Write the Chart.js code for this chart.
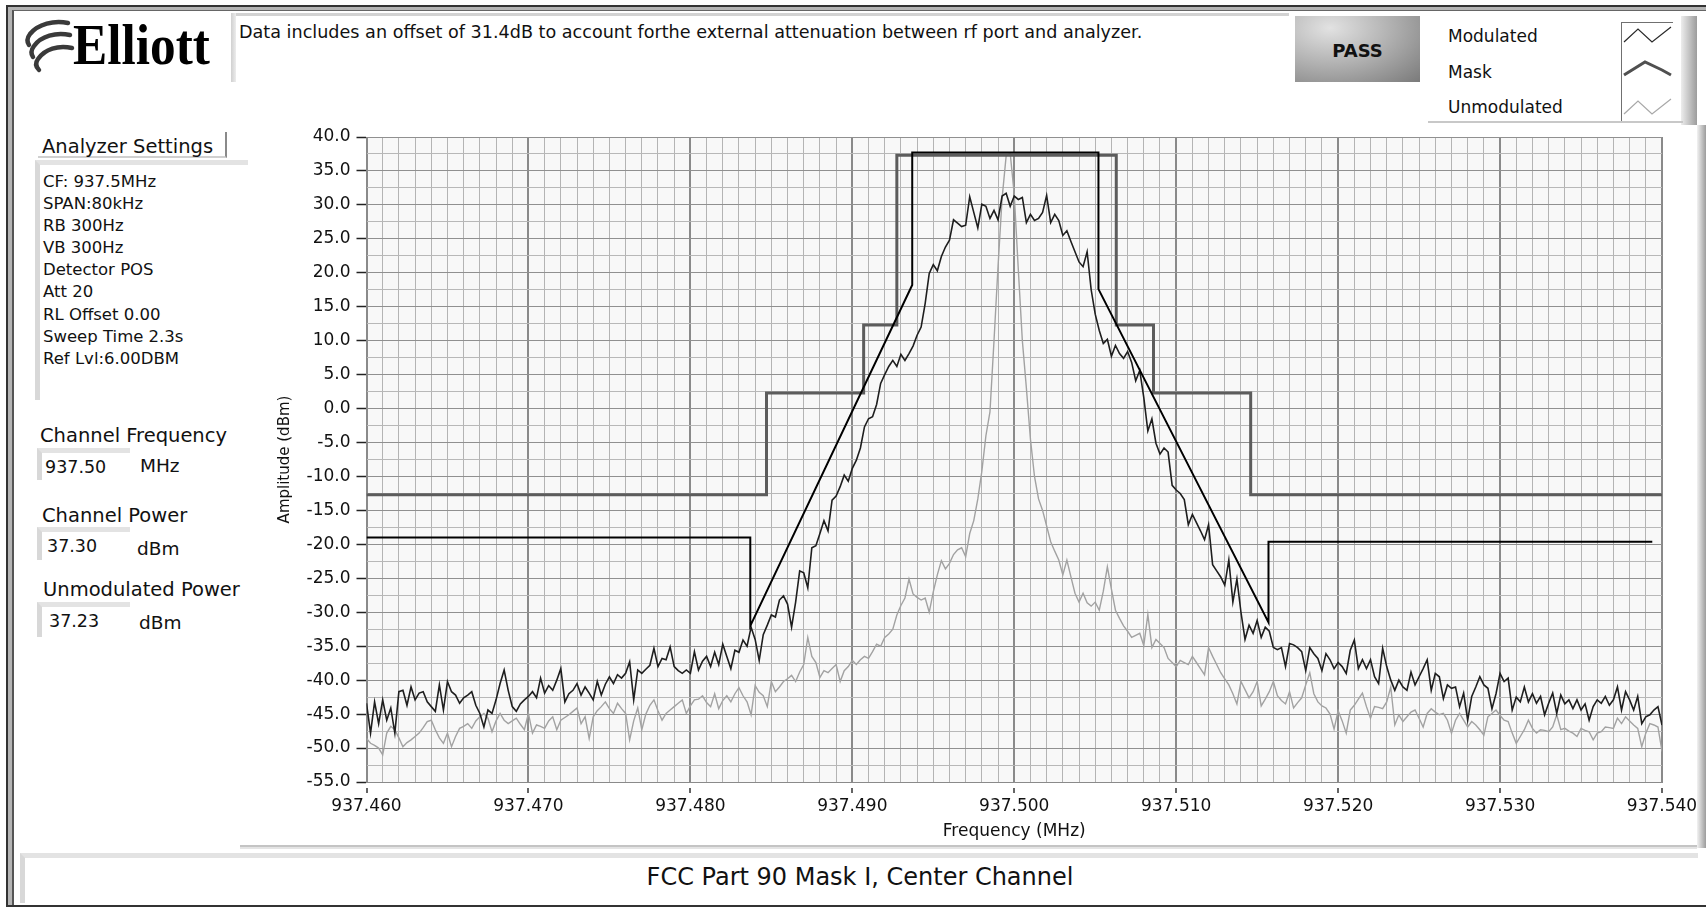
<!DOCTYPE html>
<html>
<head>
<meta charset="utf-8">
<script src="https://cdn.jsdelivr.net/npm/chart.js@4.4.0/dist/chart.umd.min.js"></script>
<style>
  html, body { margin: 0; padding: 0; background: #fff; }
  body { width: 1706px; height: 910px; position: relative; overflow: hidden; font-family: "DejaVu Sans", sans-serif; color: #111; }
  .abs { position: absolute; white-space: nowrap; }
  .bevel { position: absolute; background: #fff; border-left: 5px solid #d8d8d8; border-top: 5px solid #e3e3e3; box-sizing: border-box; }
  #chartBox { position: absolute; left: 260px; top: 120px; }
</style>
</head>
<body>

<!-- panel frame -->
<div class="abs" style="left:6px;top:5px;width:1700px;height:902px;border-left:2px solid #333;border-top:2px solid #333;border-bottom:2px solid #333;box-sizing:border-box;"></div>
<div class="abs" style="left:8px;top:7px;width:4px;height:898px;background:#b4b4b4;"></div>
<div class="abs" style="left:8px;top:7px;width:1698px;height:3px;background:#b4b4b4;"></div>
<div class="abs" style="left:12px;top:10px;width:1694px;height:895px;border-left:2px solid #555;border-top:1px solid #666;box-sizing:border-box;"></div>
<div class="abs" style="left:1697px;top:125px;width:9px;height:723px;background:linear-gradient(to right,#f2f2f2,#9c9c9c);"></div>

<!-- logo -->
<svg class="abs" style="left:18px;top:18px;" width="60" height="56" viewBox="0 0 60 56">
  <path d="M50 5 C36 2 20 6 12 16 C9 20 9 24 11 27" stroke="#3a3a3a" stroke-width="4.5" fill="none" stroke-linecap="round"/>
  <path d="M52 17 C38 14 23 18 16 28 C13 32 13 36 15 39" stroke="#3a3a3a" stroke-width="4.5" fill="none" stroke-linecap="round"/>
  <path d="M54 30 C40 27 27 31 20 41 C17 45 18 49 21 52" stroke="#3a3a3a" stroke-width="4.5" fill="none" stroke-linecap="round"/>
</svg>
<div class="abs" style="left:73px;top:12px;font-family:'Liberation Serif',serif;font-weight:bold;font-size:58px;line-height:66px;transform:scaleX(0.885);transform-origin:left top;color:#000;">Elliott</div>

<!-- note box -->
<div class="abs" style="left:231px;top:13px;width:1058px;height:3px;background:#d2d2d2;"></div>
<div class="abs" style="left:231px;top:13px;width:5px;height:69px;background:linear-gradient(to right,#d0d0d0,#ececec);"></div>
<div class="abs" style="left:239px;top:22px;font-size:17.6px;">Data includes an offset of 31.4dB to account forthe external attenuation between rf port and analyzer.</div>

<!-- PASS indicator -->
<div class="abs" style="left:1295px;top:16px;width:125px;height:66px;background:radial-gradient(ellipse at 28% 18%,#e2e2e2 0%,#b4b4b4 45%,#7a7a7a 100%);"></div>
<div class="abs" style="left:1295px;top:40px;width:125px;text-align:center;font-weight:bold;font-size:18px;">PASS</div>

<!-- legend -->
<div class="abs" style="left:1448px;top:26px;font-size:17px;">Modulated</div>
<div class="abs" style="left:1448px;top:62px;font-size:17px;">Mask</div>
<div class="abs" style="left:1448px;top:97px;font-size:17px;">Unmodulated</div>
<div class="abs" style="left:1621px;top:22px;width:51px;height:98px;border-left:1px solid #707070;border-top:1px solid #707070;background:#fff;"></div>
<svg class="abs" style="left:1621px;top:22px;" width="52" height="100">
  <polyline points="3,20 17,7 31,20 50,5" stroke="#2a2a2a" stroke-width="1.2" fill="none"/>
  <polyline points="3,53 24,40 41,48 50,53" stroke="#505050" stroke-width="3" fill="none"/>
  <polyline points="3,92 17,79 31,92 50,77" stroke="#a8a8a8" stroke-width="1.2" fill="none"/>
</svg>
<div class="abs" style="left:1681px;top:16px;width:16px;height:109px;background:linear-gradient(to right,#ededed,#9c9c9c);"></div>
<div class="abs" style="left:1428px;top:121px;width:255px;height:2px;background:#c8c8c8;"></div>

<!-- left panel -->
<div class="abs" style="left:38px;top:132px;width:189px;height:26px;border-right:2px solid #8a8a8a;border-bottom:2px solid #d0d0d0;box-sizing:border-box;"></div>
<div class="abs" style="left:42px;top:135px;font-size:19.5px;">Analyzer Settings</div>
<div class="bevel" style="left:35px;top:160px;width:213px;height:240px;"></div>
<div class="abs" style="left:43px;top:171px;font-size:16.5px;line-height:22.1px;">CF: 937.5MHz<br>SPAN:80kHz<br>RB 300Hz<br>VB 300Hz<br>Detector POS<br>Att 20<br>RL Offset 0.00<br>Sweep Time 2.3s<br>Ref Lvl:6.00DBM</div>

<div class="abs" style="left:40px;top:424px;font-size:19.5px;">Channel Frequency</div>
<div class="bevel" style="left:37px;top:448px;width:93px;height:32px;"></div>
<div class="abs" style="left:45px;top:457px;font-size:17.5px;">937.50</div>
<div class="abs" style="left:140px;top:455px;font-size:18.5px;">MHz</div>

<div class="abs" style="left:42px;top:504px;font-size:19.5px;">Channel Power</div>
<div class="bevel" style="left:37px;top:527px;width:93px;height:33px;"></div>
<div class="abs" style="left:47px;top:536px;font-size:17.5px;">37.30</div>
<div class="abs" style="left:137px;top:538px;font-size:18.5px;">dBm</div>

<div class="abs" style="left:43px;top:578px;font-size:19.5px;">Unmodulated Power</div>
<div class="bevel" style="left:37px;top:602px;width:93px;height:35px;"></div>
<div class="abs" style="left:49px;top:611px;font-size:17.5px;">37.23</div>
<div class="abs" style="left:139px;top:612px;font-size:18.5px;">dBm</div>

<!-- bottom caption -->
<div class="abs" style="left:240px;top:845px;width:1457px;height:2px;background:#c4c4c4;"></div>
<div class="abs" style="left:240px;top:847px;width:1457px;height:2px;background:#e4e4e4;"></div>
<div class="bevel" style="left:20px;top:853px;width:1678px;height:50px;"></div>
<div class="abs" style="left:20px;top:863px;width:1680px;text-align:center;font-size:24px;">FCC Part 90 Mask I, Center Channel</div>

<div id="chartBox"><canvas id="spectrum" width="1446" height="730"></canvas></div>

<script>
// sweep: 937.460 .. 937.540 MHz, 321 bins
const sweepStartMHz = 937.46
const sweepStepMHz = 0.00025

// Modulated trace (dBm), one value per bin
const modulatedLevels = [
  -43.4,-47.8,-43.2,-46.4,-42.9,-45.9,-44.1,-47.8,-41.7,-41.5,
  -43.7,-41.0,-42.9,-41.9,-41.7,-43.2,-43.9,-44.6,-40.7,-44.4,
  -40.2,-41.7,-42.2,-43.4,-42.6,-42.2,-41.7,-43.7,-44.9,-46.9,
  -44.4,-44.9,-42.9,-40.5,-38.5,-41.5,-43.9,-44.6,-43.5,-42.9,
  -42.4,-41.7,-42.6,-39.7,-41.9,-40.8,-41.5,-40.0,-38.3,-43.2,
  -42.0,-41.5,-40.5,-42.2,-41.0,-41.9,-42.9,-40.2,-42.2,-40.6,
  -39.5,-40.5,-39.2,-39.7,-39.0,-37.3,-42.9,-38.5,-39.0,-38.4,
  -37.8,-35.3,-38.0,-36.8,-37.0,-35.1,-38.0,-38.6,-39.0,-38.5,
  -39.0,-35.8,-38.5,-37.2,-36.5,-38.0,-35.9,-37.7,-34.7,-36.5,
  -38.3,-35.6,-35.9,-34.1,-35.0,-32.2,-34.0,-37.1,-33.3,-31.9,
  -30.4,-30.7,-28.2,-27.6,-28.8,-32.2,-28.5,-23.9,-24.2,-26.4,
  -20.5,-20.2,-18.4,-16.5,-18.0,-13.5,-12.9,-11.5,-9.8,-10.7,
  -8.8,-7.6,-5.8,-2.7,-1.5,-1.2,0.6,3.7,5.0,6.2,
  7.1,6.2,8.0,7.1,8.1,9.2,10.8,12.0,15.5,19.9,
  21.2,20.3,22.4,23.8,24.8,27.8,27.3,26.8,27.0,31.2,
  28.9,26.6,30.1,29.8,28.0,29.2,27.8,31.3,31.7,29.8,
  31.3,30.8,31.1,27.4,28.6,27.7,28.0,28.9,31.4,27.4,
  28.6,27.7,25.5,26.2,24.6,23.1,21.6,20.9,23.1,17.5,
  13.9,11.5,9.6,10.2,7.7,9.3,8.1,7.4,8.4,6.8,
  4.1,5.6,1.6,-3.3,-1.5,-5.1,-6.7,-5.8,-6.4,-11.3,
  -12.0,-12.5,-13.4,-17.1,-15.6,-16.8,-18.0,-19.3,-17.1,-23.0,
  -23.9,-24.8,-26.0,-22.3,-28.5,-25.1,-30.0,-34.0,-31.9,-33.1,
  -31.2,-33.7,-32.2,-32.8,-35.2,-35.5,-35.2,-38.0,-34.6,-34.8,
  -35.2,-35.8,-38.6,-35.2,-36.1,-36.8,-38.6,-36.1,-37.0,-38.3,
  -37.4,-38.0,-39.0,-35.6,-34.1,-38.3,-37.0,-38.3,-37.0,-39.5,
  -40.5,-35.3,-38.0,-40.0,-41.5,-40.0,-41.0,-41.5,-38.8,-40.7,
  -39.5,-38.3,-37.0,-41.5,-39.0,-39.5,-42.7,-40.7,-41.2,-41.0,
  -43.9,-41.9,-45.9,-42.4,-41.0,-39.5,-40.7,-41.2,-44.2,-42.0,
  -39.0,-40.2,-39.7,-44.4,-42.5,-43.2,-41.0,-43.2,-42.0,-43.4,
  -42.4,-45.1,-43.4,-41.9,-44.9,-42.2,-43.5,-42.9,-44.2,-42.9,
  -44.4,-43.5,-45.9,-43.9,-42.9,-43.4,-42.4,-43.7,-42.9,-41.0,
  -44.4,-41.7,-42.9,-44.4,-42.4,-46.4,-45.4,-45.1,-44.4,-43.9,
  -46.6
]

// Unmodulated (carrier only) trace (dBm)
const unmodulatedLevels = [
  -48.6,-49.3,-49.6,-50.0,-51.0,-47.8,-46.8,-47.3,-48.5,-49.8,
  -49.2,-48.8,-48.3,-47.8,-47.0,-46.1,-45.9,-47.3,-48.5,-49.3,
  -47.8,-49.8,-48.3,-47.1,-46.8,-46.4,-47.1,-46.0,-45.4,-44.9,
  -45.6,-47.6,-46.0,-44.9,-45.9,-46.4,-46.0,-45.6,-46.5,-47.3,
  -44.9,-47.8,-46.6,-46.8,-47.1,-46.0,-45.4,-47.3,-45.9,-45.5,
  -45.1,-44.6,-44.1,-46.4,-45.4,-48.6,-45.4,-44.5,-43.9,-43.2,
  -44.2,-44.9,-43.4,-44.2,-44.9,-48.8,-46.0,-44.1,-47.3,-45.0,
  -43.7,-42.9,-44.5,-45.9,-44.9,-44.4,-43.9,-43.4,-42.9,-44.9,
  -43.8,-42.9,-42.8,-42.3,-43.3,-43.9,-42.0,-44.2,-43.0,-42.3,
  -43.2,-42.0,-41.1,-42.3,-43.2,-45.1,-40.8,-41.8,-42.3,-43.9,
  -40.2,-41.7,-41.0,-40.2,-39.8,-39.3,-40.2,-38.8,-37.7,-33.7,
  -36.5,-37.4,-39.6,-38.6,-38.9,-38.3,-37.7,-40.2,-38.6,-38.0,
  -37.1,-37.7,-37.0,-36.5,-36.8,-35.8,-34.7,-35.0,-33.7,-33.2,
  -32.5,-30.4,-29.0,-27.9,-25.1,-27.3,-27.8,-28.2,-27.9,-30.0,
  -27.0,-24.5,-22.4,-23.6,-22.8,-21.5,-20.8,-20.5,-21.8,-18.4,
  -16.5,-13.3,-9.2,-4.0,-0.5,10.0,21.0,31.0,37.2,37.6,
  31.5,20.5,10.0,3.0,-4.5,-10.0,-13.3,-15.0,-17.3,-19.6,
  -21.0,-22.3,-24.5,-22.3,-24.8,-27.2,-28.5,-27.2,-28.6,-29.1,
  -28.5,-29.7,-26.9,-23.3,-26.6,-29.7,-30.9,-32.0,-32.8,-33.7,
  -33.4,-33.1,-34.9,-30.3,-35.2,-34.0,-34.6,-35.2,-36.8,-37.4,
  -38.0,-37.1,-37.4,-37.7,-36.5,-37.4,-38.3,-39.2,-35.2,-36.5,
  -37.7,-38.9,-39.8,-40.7,-42.0,-43.5,-40.2,-41.4,-42.6,-41.7,
  -40.2,-43.8,-42.8,-41.7,-40.2,-42.3,-43.0,-43.5,-41.7,-44.1,
  -43.3,-42.6,-40.7,-38.9,-42.0,-43.2,-43.8,-44.1,-45.0,-47.2,
  -44.5,-46.0,-47.8,-44.4,-43.7,-42.8,-41.9,-43.9,-45.6,-43.9,
  -44.0,-44.2,-43.2,-41.0,-46.6,-45.1,-46.1,-45.4,-44.7,-44.4,
  -45.6,-46.9,-44.9,-44.2,-44.7,-45.1,-44.9,-45.9,-47.8,-45.9,
  -44.9,-45.9,-46.9,-46.1,-46.6,-47.3,-48.1,-45.4,-44.9,-44.4,
  -45.2,-45.9,-46.1,-47.8,-49.3,-48.3,-47.3,-45.9,-47.1,-47.8,
  -47.3,-47.4,-47.6,-46.9,-45.1,-47.3,-47.1,-47.5,-47.8,-48.3,
  -47.1,-47.4,-47.6,-48.8,-47.8,-47.6,-46.9,-47.0,-47.1,-45.6,
  -46.4,-45.4,-46.0,-46.6,-47.1,-49.8,-47.8,-46.4,-46.6,-46.9,
  -50.5
]

// FCC mask (stepped), corner points
const maskFreqs = [937.4600, 937.4847, 937.4847, 937.4907, 937.4907, 937.49275, 937.49275,
  937.5063, 937.5063, 937.5086, 937.5086, 937.5146, 937.5146, 937.5400]
const maskLevels = [-12.7, -12.7, 2.3, 2.3, 12.3, 12.3, 37.3,
  37.3, 12.3, 12.3, 2.3, 2.3, -12.7, -12.7]

// sloped limit line
const limitFreqs = [937.4600, 937.4837, 937.4837, 937.4937, 937.4937, 937.5052, 937.5052, 937.5157, 937.5157, 937.5394]
const limitLevels = [-19.0, -19.0, -32.0, 18.2, 37.7, 37.7, 17.6, -31.5, -19.6, -19.6]

const yTickStep = 2.5
const xTickStep = 0.001

const sweepPoints = levels => levels.map((v, i) => ({ x: sweepStartMHz + i * sweepStepMHz, y: v }))
const pairPoints = (xs, ys) => xs.map((x, i) => ({ x: x, y: ys[i] }))

const isMajorX = v => Math.round(v * 1000) % 10 === 0
const isMajorY = v => Math.abs(v % 5) < 1e-6

const plotBackground = {
  id: "plotBackground",
  beforeDraw(chart) {
    const { ctx, chartArea: a } = chart
    ctx.save()
    ctx.fillStyle = "#f8f8f8"
    ctx.fillRect(a.left, a.top, a.right - a.left, a.bottom - a.top)
    ctx.restore()
  },
}

Chart.defaults.font.family = "DejaVu Sans"
Chart.defaults.color = "#111"

new Chart(document.getElementById("spectrum").getContext("2d"), {
  type: "line",
  data: {
    datasets: [
      { label: "Limit", data: pairPoints(limitFreqs, limitLevels), borderColor: "#000", borderWidth: 2, order: 1 },
      { label: "Modulated", data: sweepPoints(modulatedLevels), borderColor: "#1e1e1e", borderWidth: 1.6, order: 2 },
      { label: "Mask", data: pairPoints(maskFreqs, maskLevels), borderColor: "#5c5c5c", borderWidth: 3, order: 3 },
      { label: "Unmodulated", data: sweepPoints(unmodulatedLevels), borderColor: "#a2a2a2", borderWidth: 1.4, order: 4 },
    ],
  },
  options: {
    responsive: false,
    animation: false,
    devicePixelRatio: 1,
    elements: { point: { radius: 0 }, line: { tension: 0 } },
    layout: { padding: { top: 17, right: 44, left: 0, bottom: 0 } },
    plugins: { legend: { display: false }, tooltip: { enabled: false } },
    scales: {
      x: {
        type: "linear",
        min: 937.46,
        max: 937.54,
        afterFit: s => { s.height = 68; s.paddingLeft = 0; s.paddingRight = 0 },
        border: { color: "#8a8a8a" },
        ticks: {
          stepSize: xTickStep,
          autoSkip: false,
          maxRotation: 0,
          padding: 3,
          font: { size: 17 },
          callback: v => (isMajorX(v) ? v.toFixed(3) : ""),
        },
        grid: {
          color: c => (isMajorX(c.tick.value) ? "#8a8a8a" : "#b4b4b4"),
          lineWidth: c => (isMajorX(c.tick.value) ? 2 : 1),
          tickLength: 11,
          tickWidth: 1.5,
          tickBorderDash: [0, 5, 6, 40],
          tickColor: c => (isMajorX(c.tick.value) ? "#333" : "rgba(0,0,0,0)"),
        },
        title: { display: true, text: "Frequency (MHz)", font: { size: 17 }, padding: { top: 0, bottom: 8 } },
      },
      y: {
        min: -55,
        max: 40,
        afterFit: s => { s.width = 106.5 },
        border: { color: "#8a8a8a" },
        ticks: {
          stepSize: yTickStep,
          autoSkip: false,
          padding: 6,
          font: { size: 17 },
          callback: v => (isMajorY(v) ? v.toFixed(1) : ""),
        },
        grid: {
          color: c => (isMajorY(c.tick.value) ? "#909090" : "#b8b8b8"),
          tickLength: 10,
          tickWidth: 1.5,
          tickColor: c => (isMajorY(c.tick.value) ? "#222" : "rgba(0,0,0,0)"),
        },
        title: { display: true, text: "Amplitude (dBm)", font: { size: 15 }, padding: { top: 16, bottom: 0 } },
      },
    },
  },
  plugins: [plotBackground],
})
</script>
</body>
</html>
